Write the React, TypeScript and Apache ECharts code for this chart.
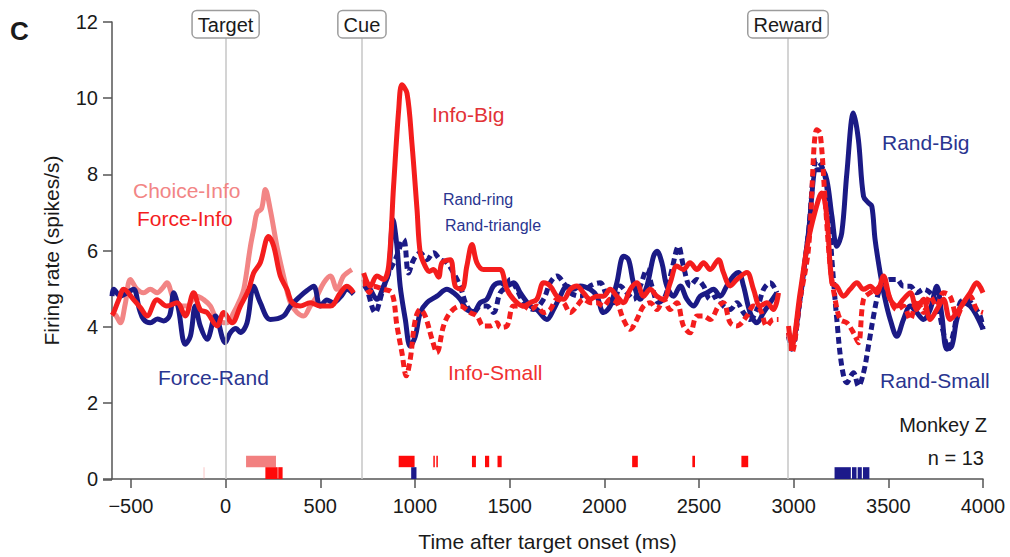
import { useEffect, useRef } from "react";
import * as echarts from "echarts";

// ---------- data (time in ms after target onset, firing rate in spikes/s) ----------
const xTickValues = [-500, 0, 500, 1000, 1500, 2000, 2500, 3000, 3500, 4000];
const eventTimes = [0, 720, 2970];
const eventNames = ["Target", "Cue", "Reward"];

const choiceInfo = [
  [-600, 4.35], [-580, 4.3], [-556, 4.1], [-530, 4.6], [-503, 5.24], [-468, 4.98], [-433, 4.89],
  [-398, 4.98], [-362, 4.89], [-335, 5.0], [-310, 5.15], [-274, 4.71], [-239, 4.54], [-204, 4.54],
  [-175, 4.7], [-151, 4.8], [-116, 4.71], [-80, 4.54], [-45, 4.19], [8, 4.1], [43, 4.37], [75, 4.7],
  [96, 4.98], [131, 6.11], [150, 6.6], [166, 6.99], [190, 7.1], [210, 7.6], [236, 7.07], [271, 6.11],
  [306, 5.33], [342, 4.63], [377, 4.37], [412, 4.28], [447, 4.54], [482, 4.8], [518, 5.15],
  [553, 5.33], [588, 4.98], [623, 5.33], [667, 5.5],
];
const forceInfo = [
  [-600, 4.3], [-591, 4.37], [-565, 4.7], [-538, 4.98], [-486, 4.71], [-450, 4.5], [-415, 4.28],
  [-362, 4.71], [-310, 4.54], [-257, 4.63], [-213, 4.28], [-169, 4.89], [-134, 4.45], [-98, 4.37],
  [-45, 4.02], [-10, 4.37], [34, 4.1], [78, 4.54], [122, 4.98], [148, 5.41], [183, 5.68], [227, 6.37],
  [254, 6.11], [289, 5.33], [324, 4.98], [351, 4.63], [394, 4.54], [447, 4.63], [500, 4.54],
  [553, 4.54], [606, 4.89], [641, 5.06], [676, 4.89],
];
const forceRand = [
  [-600, 4.8], [-591, 4.98], [-556, 4.8], [-520, 4.89], [-486, 4.98], [-455, 4.45], [-433, 4.19],
  [-398, 4.1], [-360, 4.2], [-327, 4.15], [-295, 4.3], [-274, 4.89], [-250, 4.5], [-213, 3.54],
  [-186, 3.75], [-160, 4.54], [-134, 4.02], [-98, 3.67], [-54, 4.28], [-2, 3.58], [25, 3.84],
  [55, 3.95], [78, 3.85], [113, 4.1], [148, 5.06], [183, 4.63], [236, 4.19], [306, 4.28], [342, 4.54],
  [394, 4.8], [430, 4.95], [465, 5.06], [500, 4.54], [535, 4.7], [570, 4.63], [610, 4.8], [641, 4.98],
  [676, 4.85],
];

const infoBigCue = [
  [729, 5.41], [764, 5.06], [799, 5.33], [834, 5.24], [861, 5.59], [887, 7.68], [914, 9.69],
  [931, 10.35], [958, 10.13], [984, 8.82], [1011, 7.07], [1028, 5.94], [1054, 5.59], [1076, 5.45],
  [1098, 5.5], [1125, 5.3], [1143, 5.68], [1186, 5.76], [1213, 5.06], [1248, 4.98], [1274, 5.59],
  [1301, 6.16], [1327, 5.68], [1362, 5.5], [1415, 5.5], [1450, 5.5], [1486, 4.98], [1521, 4.72],
  [1573, 4.54], [1609, 4.63], [1644, 4.72], [1679, 5.15], [1714, 5.07], [1750, 4.8], [1785, 4.72],
  [1820, 4.98], [1855, 5.07], [1890, 4.89], [1926, 4.72], [1961, 4.8], [1996, 4.8], [2031, 4.98],
  [2066, 4.8], [2101, 4.63], [2137, 4.98], [2172, 5.15], [2207, 4.8], [2242, 4.98], [2278, 4.8],
  [2313, 4.72], [2348, 5.15], [2383, 5.59], [2418, 5.5], [2453, 5.68], [2489, 5.5], [2524, 5.68],
  [2559, 5.5], [2603, 5.76], [2629, 5.42], [2665, 5.07], [2700, 5.24], [2753, 5.42], [2788, 4.98],
  [2823, 4.54], [2858, 4.63], [2893, 4.45], [2920, 4.89],
];
const infoBigRew = [
  [2973, 4.02], [2990, 3.49], [3034, 4.89], [3078, 6.29], [3131, 7.34], [3149, 7.51], [3175, 6.9],
  [3202, 5.15], [3228, 5.06], [3263, 4.8], [3298, 4.98], [3334, 5.15], [3369, 4.98], [3404, 5.06],
  [3439, 4.89], [3474, 5.33], [3510, 4.72], [3545, 4.54], [3580, 4.72], [3616, 4.89], [3650, 4.45],
  [3686, 4.72], [3721, 4.19], [3756, 4.45], [3791, 4.72], [3826, 4.19], [3862, 4.37], [3897, 4.63],
  [3932, 4.89], [3967, 5.15], [4000, 4.89],
];
const infoSmallCue = [
  [729, 5.24], [760, 4.9], [781, 5.06], [834, 4.98], [878, 4.89], [905, 4.02], [931, 3.32],
  [954, 2.71], [975, 3.14], [1002, 4.19], [1028, 4.45], [1054, 4.28], [1090, 3.67], [1116, 3.32],
  [1151, 4.02], [1186, 4.37], [1239, 4.54], [1292, 4.37], [1327, 4.28], [1362, 4.02], [1397, 4.02],
  [1433, 4.1], [1450, 3.98], [1486, 4.02], [1521, 4.54], [1573, 4.54], [1609, 4.45], [1644, 4.54],
  [1679, 4.37], [1714, 4.45], [1750, 4.72], [1785, 4.63], [1820, 4.37], [1855, 4.54], [1890, 4.72],
  [1926, 4.63], [1961, 4.63], [1996, 4.54], [2031, 4.72], [2066, 4.63], [2101, 4.19], [2137, 3.93],
  [2172, 4.19], [2207, 4.54], [2242, 4.63], [2278, 4.45], [2313, 4.72], [2348, 4.45], [2383, 4.63],
  [2418, 4.02], [2453, 3.84], [2489, 4.28], [2524, 4.28], [2559, 4.19], [2603, 4.54], [2629, 4.63],
  [2665, 4.1], [2700, 4.02], [2753, 4.28], [2788, 4.54], [2823, 4.45], [2858, 4.02], [2893, 4.19],
  [2920, 4.19],
];
const infoSmallRew = [
  [2973, 3.84], [2990, 3.32], [3034, 4.72], [3078, 6.03], [3122, 9.17], [3140, 9.08], [3166, 7.34],
  [3193, 5.59], [3219, 4.72], [3246, 4.19], [3281, 4.1], [3316, 3.84], [3342, 3.58], [3369, 4.72],
  [3404, 4.89], [3439, 4.98], [3474, 5.15], [3510, 4.72], [3545, 4.45], [3580, 4.54], [3616, 4.19],
  [3650, 4.72], [3686, 4.37], [3721, 4.8], [3756, 4.54], [3791, 4.89], [3826, 4.8], [3862, 4.28],
  [3897, 4.63], [3932, 4.8], [3967, 4.45], [4000, 4.37],
];
const randBigCue = [
  [729, 5.24], [764, 4.98], [799, 4.72], [834, 5.06], [861, 5.41], [884, 6.81], [905, 6.11],
  [922, 5.06], [949, 4.19], [975, 3.49], [1002, 3.75], [1028, 4.37], [1063, 4.63], [1116, 4.8],
  [1169, 4.98], [1204, 4.89], [1239, 4.72], [1274, 4.45], [1310, 4.4], [1345, 4.63], [1380, 4.72],
  [1415, 5.07], [1450, 5.15], [1486, 5.07], [1521, 5.15], [1556, 4.89], [1609, 4.54], [1644, 4.45],
  [1697, 4.19], [1732, 4.45], [1767, 4.8], [1802, 5.07], [1838, 4.98], [1873, 5.07], [1926, 4.98],
  [1961, 4.8], [1996, 4.37], [2031, 4.54], [2066, 5.15], [2102, 5.85], [2128, 5.76], [2154, 5.15],
  [2190, 4.72], [2225, 5.07], [2260, 5.85], [2278, 5.98], [2304, 5.68], [2330, 5.07], [2366, 4.8],
  [2401, 5.07], [2436, 4.72], [2471, 4.54], [2506, 4.8], [2542, 4.89], [2577, 4.98], [2612, 4.8],
  [2647, 5.07], [2682, 5.33], [2709, 5.42], [2735, 5.07], [2770, 4.37], [2806, 4.1], [2841, 4.37],
  [2876, 4.63], [2911, 4.89],
];
const randBigRew = [
  [2973, 3.84], [2990, 3.58], [3034, 4.72], [3078, 6.46], [3122, 8.12], [3149, 8.12], [3175, 7.86],
  [3202, 6.9], [3228, 6.11], [3254, 6.46], [3281, 8.03], [3316, 9.61], [3342, 8.91], [3369, 7.42],
  [3395, 7.25], [3413, 7.16], [3430, 6.29], [3457, 5.41], [3483, 4.72], [3510, 4.19], [3545, 3.75],
  [3580, 4.19], [3616, 4.54], [3650, 4.37], [3686, 4.19], [3721, 4.45], [3756, 5.06], [3783, 4.28],
  [3809, 3.41], [3835, 3.49], [3862, 4.19], [3897, 4.63], [3932, 4.54], [3967, 4.28], [4000, 3.93],
];
const randSmallCue = [
  [729, 5.1], [746, 4.98], [790, 4.37], [826, 4.89], [861, 5.41], [896, 5.76], [940, 6.29],
  [966, 5.41], [993, 5.76], [1028, 5.94], [1063, 5.76], [1098, 5.94], [1134, 5.76], [1169, 5.68],
  [1204, 5.41], [1239, 5.06], [1274, 4.54], [1310, 4.37], [1345, 4.54], [1380, 4.54], [1415, 4.37],
  [1450, 4.89], [1486, 5.06], [1503, 5.24], [1538, 4.98], [1574, 4.63], [1626, 4.45], [1679, 4.72],
  [1714, 5.15], [1750, 5.33], [1785, 5.15], [1820, 4.89], [1873, 4.8], [1926, 5.07], [1978, 5.15],
  [2014, 4.8], [2049, 4.63], [2084, 5.07], [2119, 4.89], [2154, 4.72], [2190, 5.07], [2225, 5.5],
  [2251, 5.07], [2286, 4.63], [2322, 4.8], [2357, 5.5], [2392, 6.11], [2418, 5.59], [2454, 5.07],
  [2489, 5.24], [2524, 5.07], [2559, 4.72], [2594, 4.8], [2630, 4.54], [2665, 4.45], [2700, 4.63],
  [2735, 4.37], [2770, 4.19], [2806, 4.45], [2841, 4.98], [2876, 5.15], [2911, 4.89],
];
const randSmallRew = [
  [2973, 3.75], [2990, 3.41], [3034, 4.72], [3078, 6.46], [3122, 8.38], [3149, 8.21], [3175, 7.68],
  [3202, 5.76], [3228, 4.19], [3254, 2.97], [3281, 2.53], [3316, 2.79], [3342, 2.44], [3369, 2.79],
  [3395, 3.49], [3422, 4.28], [3448, 4.89], [3474, 5.15], [3510, 5.24], [3545, 5.24], [3580, 5.06],
  [3616, 5.06], [3650, 4.89], [3686, 4.98], [3721, 4.89], [3756, 4.63], [3791, 3.84], [3818, 3.41],
  [3844, 3.84], [3879, 4.63], [3914, 4.72], [3950, 4.54], [3985, 4.28], [4000, 3.93],
];

// significance marks: [start ms, end ms]
const rowLow = [0, 0.31];
const rowHigh = [0.31, 0.61];
const choiceSig = [[108, 266]];
const faintSig = [[-118, -110]];
const forceInfoSig = [[210, 275], [278, 301]];
const infoSig = [
  [914, 998], [1097, 1103], [1113, 1119], [1301, 1322], [1370, 1392], [1436, 1458],
  [2147, 2177], [2465, 2479], [2724, 2760],
];
const randSig = [[980, 1008], [3216, 3302], [3308, 3332], [3338, 3360], [3366, 3400]];

// ---------- styles ----------
const NAVY = "#1b1a85";
const RED = "#f41d1d";
const PINK = "#f28585";
const LABEL_NAVY = "#2a3590";
const FONT = "'Liberation Sans', Arial, Helvetica, sans-serif";

export default function App() {
  const ref = useRef<HTMLDivElement>(null);

  useEffect(() => {
    const chart = echarts.init(ref.current!, null, { renderer: "svg" });

    const line = (name: string, data: number[][], color: string, dashed: boolean, z: number) => ({
      type: "line",
      name,
      data,
      showSymbol: false,
      symbol: "none",
      smooth: 0.35,
      z,
      silent: true,
      lineStyle: {
        color,
        width: 5,
        type: dashed ? [7, 4] : "solid",
        cap: "butt",
        join: "round",
      },
    });

    const sig = (name: string, spans: number[][], row: number[], color: string) => ({
      type: "custom",
      name,
      z: 6,
      silent: true,
      data: spans.map(([a, b]) => [a, b, row[0], row[1]]),
      encode: { x: [0, 1], y: [2, 3] },
      renderItem: (_p: any, api: any) => {
        const p0 = api.coord([api.value(0), api.value(3)]);
        const p1 = api.coord([api.value(1), api.value(2)]);
        return {
          type: "rect",
          shape: { x: p0[0], y: p0[1], width: Math.max(p1[0] - p0[0], 1.5), height: p1[1] - p0[1] },
          style: { fill: color },
        };
      },
    });

    const text = (t: string, x: number, y: number, color: string, size = 21, align = "left", weight = "normal") => ({
      type: "text",
      x,
      y,
      z: 100,
      style: {
        text: t,
        fill: color,
        font: `${weight} ${size}px ${FONT}`,
        textAlign: align,
        textVerticalAlign: "middle",
      },
    });

    chart.setOption({
      animation: false,
      grid: { left: 112, right: 27, top: 22, bottom: 77 },
      xAxis: {
        type: "value",
        min: -600,
        max: 4000,
        name: "Time after target onset (ms)",
        nameLocation: "middle",
        nameGap: 52,
        nameTextStyle: { fontSize: 21, color: "#1a1a1a", fontFamily: FONT },
        splitLine: { show: false },
        axisLine: { show: true, onZero: false, lineStyle: { color: "#555", width: 1.5 } },
        axisTick: { show: true, inside: false, length: 9, customValues: xTickValues, lineStyle: { color: "#555", width: 1.5 } },
        axisLabel: {
          customValues: xTickValues,
          fontSize: 20,
          color: "#1a1a1a",
          fontFamily: FONT,
          margin: 17,
          formatter: (v: number) => (v < 0 ? "\u2212" + Math.abs(v) : String(v)),
        },
      },
      yAxis: {
        type: "value",
        min: 0,
        max: 12,
        interval: 2,
        name: "Firing rate (spikes/s)",
        nameLocation: "middle",
        nameGap: 50,
        nameTextStyle: { fontSize: 21, color: "#1a1a1a", fontFamily: FONT },
        splitLine: { show: false },
        axisLine: { show: true, onZero: false, lineStyle: { color: "#555", width: 1.5 } },
        axisTick: { show: true, inside: false, length: 9, lineStyle: { color: "#555", width: 1.5 } },
        axisLabel: { fontSize: 20, color: "#1a1a1a", fontFamily: FONT, margin: 14 },
      },
      series: [
        {
          type: "line",
          name: "events",
          data: [],
          z: 1,
          silent: true,
          markLine: {
            silent: true,
            symbol: ["none", "none"],
            animation: false,
            lineStyle: { color: "#c6c6c6", width: 1.5, type: "solid" },
            label: {
              show: true,
              position: "end",
              formatter: "{b}",
              color: "#1a1a1a",
              fontSize: 20,
              fontFamily: FONT,
              backgroundColor: "#ffffff",
              borderColor: "#9c9c9c",
              borderWidth: 1.5,
              borderRadius: 4,
              padding: [4, 5, 2, 5],
              distance: 0,
            },
            data: eventTimes.map((t, i) => [
              { name: eventNames[i], coord: [t, 0] },
              { coord: [t, 11.6] },
            ]),
          },
        },
        line("Choice-Info", choiceInfo, PINK, false, 2),
        line("Force-Rand", forceRand, NAVY, false, 3),
        line("Force-Info", forceInfo, RED, false, 4),
        line("Rand-triangle", randSmallCue, NAVY, true, 2),
        line("Rand-Small", randSmallRew, NAVY, true, 2),
        line("Rand-ring", randBigCue, NAVY, false, 3),
        line("Rand-Big", randBigRew, NAVY, false, 3),
        line("Info-Small cue", infoSmallCue, RED, true, 4),
        line("Info-Small", infoSmallRew, RED, true, 4),
        line("Info-Big cue", infoBigCue, RED, false, 5),
        line("Info-Big", infoBigRew, RED, false, 5),
        sig("choiceSig", choiceSig, rowHigh, "#f28080"),
        sig("faintSig", faintSig, rowLow, "rgba(245,150,150,0.35)"),
        sig("forceInfoSig", forceInfoSig, rowLow, "#ff0a0a"),
        sig("infoSig", infoSig, rowHigh, "#ff0a0a"),
        sig("randSig", randSig, rowLow, "#1c1a8a"),
      ],
      graphic: [
        { type: "line", z: 50, shape: { x1: 103, y1: 480, x2: 112, y2: 480 }, style: { stroke: "#555", lineWidth: 1.5 } },
        text("C", 10, 31, "#1a1a1a", 26, "left", "bold"),
        text("Choice-Info", 133, 190, PINK),
        text("Force-Info", 137, 218, RED),
        text("Force-Rand", 158, 377, LABEL_NAVY),
        text("Info-Big", 432, 114, "#e23236"),
        text("Rand-ring", 443, 199, LABEL_NAVY, 16),
        text("Rand-triangle", 445, 225, LABEL_NAVY, 16),
        text("Info-Small", 448, 372, "#f0302f"),
        text("Rand-Big", 882, 142, LABEL_NAVY),
        text("Rand-Small", 880, 380, LABEL_NAVY),
        text("Monkey Z", 987, 425, "#1a1a1a", 20, "right"),
        text("n = 13", 984, 458, "#1a1a1a", 20, "right"),
      ],
    });

    return () => chart.dispose();
  }, []);

  return (
    <div
      ref={ref}
      style={{ position: "fixed", left: 0, top: 0, width: 1010, height: 557, background: "#fff" }}
    />
  );
}
